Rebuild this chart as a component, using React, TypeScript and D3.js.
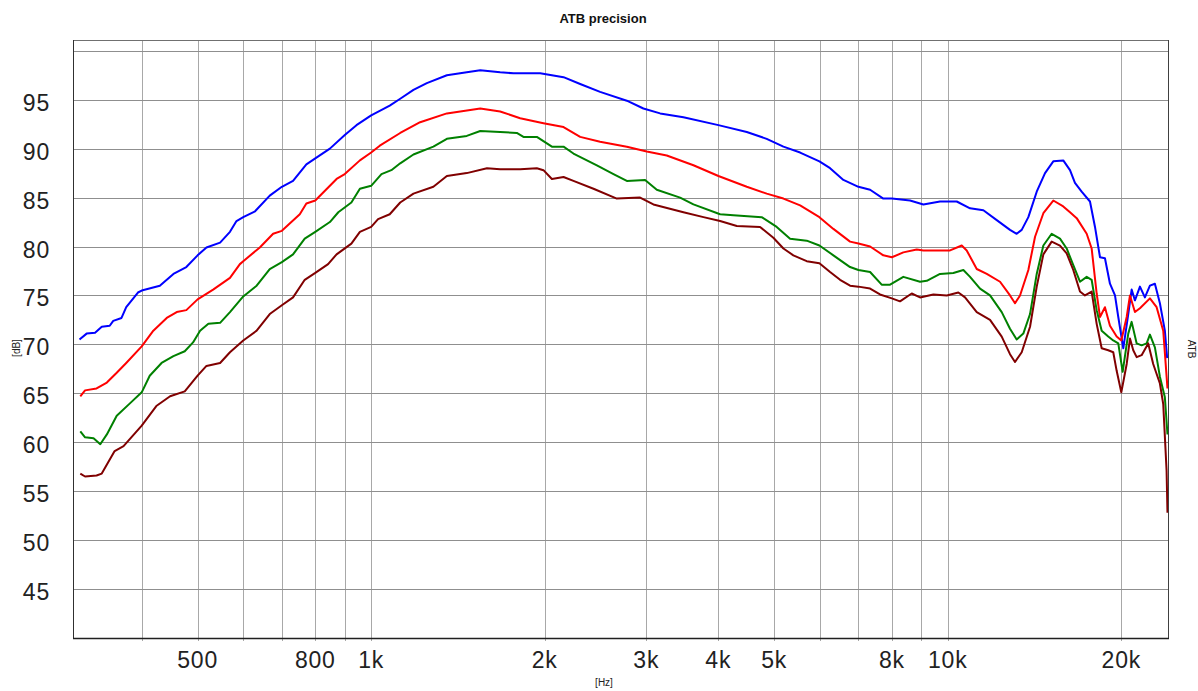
import React from "react";
import * as d3 from "d3";

const title = "ATB precision";
const yTicks = [45, 50, 55, 60, 65, 70, 75, 80, 85, 90, 95];
const yGrid = [45, 50, 55, 60, 65, 70, 75, 80, 85, 90, 95, 100];
const xGrid = [400, 500, 600, 700, 800, 900, 1000, 2000, 3000, 4000, 5000, 6000, 7000, 8000, 9000, 10000, 20000];
const xTickValues = [500, 800, 1000, 2000, 3000, 4000, 5000, 8000, 10000, 20000];
const xTickLabels = ["500", "800", "1k", "2k", "3k", "4k", "5k", "8k", "10k", "20k"];

const blue: [number, number][] = [
  [312, 70.5], [321, 71.1], [332, 71.2], [341, 71.8], [352, 71.9], [357, 72.4], [369, 72.7], [376, 73.8], [394, 75.3], [400, 75.5],
  [430, 76.0], [454, 77.2], [478, 77.9], [500, 79.1], [518, 79.9], [547, 80.4], [569, 81.5], [584, 82.6], [600, 83.0], [629, 83.6],
  [667, 85.2], [700, 86.1], [732, 86.7], [772, 88.4], [800, 89.0], [848, 90.0], [900, 91.4], [943, 92.4], [1000, 93.4], [1077, 94.4],
  [1123, 95.1], [1184, 96.0], [1249, 96.7], [1353, 97.5], [1465, 97.8], [1546, 98.0], [1674, 97.8], [1765, 97.7], [1964, 97.7],
  [2156, 97.3], [2304, 96.6], [2495, 95.8], [2776, 94.9], [2966, 94.1], [3171, 93.6], [3480, 93.2], [4002, 92.4], [4482, 91.7],
  [4853, 91.0], [5188, 90.2], [5546, 89.6], [5990, 88.7], [6251, 88.0], [6592, 86.8], [7000, 86.1], [7334, 85.8], [7731, 84.9],
  [8000, 84.9], [8602, 84.7], [9073, 84.3], [9696, 84.6], [10366, 84.6], [10932, 83.9], [11529, 83.7], [12162, 82.7], [12823, 81.7],
  [13170, 81.3], [13437, 81.7], [13798, 83.0], [14267, 85.6], [14748, 87.5], [15243, 88.7], [15862, 88.8], [16295, 87.8],
  [16621, 86.5], [17071, 85.6], [17648, 84.6], [18005, 82.0], [18369, 78.9], [18735, 78.8], [19115, 76.2], [19502, 75.0],
  [19760, 72.8], [20159, 69.6], [20563, 73.1], [20843, 75.6], [21119, 74.5], [21546, 75.9], [21977, 74.8], [22422, 76.0],
  [22871, 76.2], [23333, 74.2], [23799, 71.4], [24020, 68.6],
];

const red: [number, number][] = [
  [313, 64.7], [319, 65.3], [334, 65.5], [348, 66.1], [362, 67.1], [376, 68.1], [400, 69.8], [419, 71.4], [442, 72.7], [460, 73.3],
  [478, 73.5], [500, 74.6], [532, 75.6], [569, 76.8], [592, 78.2], [600, 78.5], [641, 79.9], [676, 81.3], [700, 81.6], [752, 83.3],
  [772, 84.4], [800, 84.7], [871, 86.9], [900, 87.4], [956, 88.8], [1000, 89.6], [1035, 90.3], [1123, 91.6], [1216, 92.7],
  [1353, 93.6], [1546, 94.1], [1674, 93.8], [1813, 93.1], [1990, 92.6], [2156, 92.2], [2304, 91.2], [2495, 90.7], [2776, 90.2],
  [3006, 89.7], [3256, 89.3], [3622, 88.3], [4002, 87.2], [4482, 86.1], [4853, 85.4], [5188, 84.9], [5546, 84.2], [5990, 83.0],
  [6334, 81.8], [6770, 80.5], [7000, 80.3], [7334, 80.0], [7731, 79.1], [8000, 78.9], [8375, 79.4], [8835, 79.7], [9073, 79.6],
  [9696, 79.6], [10093, 79.6], [10575, 80.1], [10787, 79.6], [11228, 77.7], [11687, 77.2], [12323, 76.4], [12823, 75.0],
  [13082, 74.2], [13347, 75.0], [13798, 77.6], [14172, 81.0], [14650, 83.4], [15243, 84.7], [15862, 84.1], [16295, 83.5],
  [16736, 82.9], [17418, 81.3], [17766, 79.8], [18126, 75.2], [18369, 72.8], [18735, 73.8], [19115, 71.9], [19633, 70.8],
  [20000, 70.4], [20435, 72.8], [20704, 75.0], [21119, 73.3], [21546, 73.7], [22422, 74.7], [23029, 73.8], [23646, 71.4],
  [24050, 65.5],
];

const green: [number, number][] = [
  [313, 61.1], [319, 60.5], [330, 60.4], [339, 59.8], [348, 60.8], [362, 62.7], [382, 64.0], [400, 65.1], [413, 66.8], [433, 68.1],
  [454, 68.8], [475, 69.3], [491, 70.2], [505, 71.4], [522, 72.1], [547, 72.2], [569, 73.3], [600, 74.9], [633, 76.0], [667, 77.7],
  [700, 78.4], [732, 79.2], [767, 80.8], [800, 81.5], [848, 82.5], [877, 83.5], [924, 84.5], [956, 85.9], [1000, 86.2],
  [1042, 87.4], [1084, 87.8], [1123, 88.5], [1184, 89.4], [1282, 90.2], [1353, 91.0], [1465, 91.3], [1546, 91.8], [1674, 91.7],
  [1789, 91.6], [1837, 91.2], [1938, 91.2], [2058, 90.2], [2156, 90.2], [2243, 89.5], [2463, 88.3], [2632, 87.4], [2776, 86.7],
  [2986, 86.8], [3129, 85.8], [3434, 85.0], [3622, 84.3], [4029, 83.3], [4249, 83.2], [4757, 83.0], [5051, 82.0], [5328, 80.8],
  [5694, 80.6], [5990, 80.1], [6334, 79.1], [6770, 77.9], [7000, 77.6], [7334, 77.4], [7681, 76.1], [7943, 76.1], [8375, 76.9],
  [8953, 76.4], [9196, 76.5], [9696, 77.2], [10226, 77.3], [10644, 77.6], [10932, 76.9], [11376, 75.7], [11840, 75.0],
  [12406, 73.3], [12823, 71.6], [13170, 70.5], [13524, 71.1], [13891, 73.1], [14267, 77.2], [14650, 80.1], [15145, 81.3],
  [15655, 80.8], [16079, 79.8], [16510, 78.1], [16957, 76.4], [17418, 76.9], [17766, 76.6], [18126, 73.5], [18492, 71.4],
  [18983, 70.8], [19367, 70.4], [19760, 70.1], [20108, 67.2], [20563, 71.1], [20843, 72.3], [21265, 70.1], [21690, 69.9],
  [22130, 70.1], [22422, 71.0], [22871, 69.7], [23333, 66.7], [23799, 64.6], [24050, 60.8],
];

const darkred: [number, number][] = [
  [313, 56.8], [319, 56.5], [334, 56.6], [341, 56.8], [359, 59.1], [372, 59.6], [400, 61.7], [424, 63.7], [448, 64.7], [475, 65.2],
  [500, 66.8], [518, 67.8], [547, 68.1], [569, 69.2], [600, 70.4], [633, 71.4], [667, 73.1], [700, 74.0], [732, 74.8], [767, 76.6],
  [800, 77.3], [842, 78.2], [871, 79.2], [924, 80.3], [956, 81.5], [1000, 82.0], [1028, 82.8], [1077, 83.3], [1123, 84.5],
  [1184, 85.4], [1282, 86.1], [1353, 87.2], [1465, 87.5], [1588, 88.0], [1674, 87.9], [1813, 87.9], [1938, 88.0], [1990, 87.8],
  [2058, 86.9], [2156, 87.1], [2243, 86.7], [2430, 85.9], [2667, 84.9], [2927, 85.0], [3087, 84.3], [3480, 83.5], [3770, 83.0],
  [4029, 82.6], [4307, 82.1], [4726, 82.0], [4984, 80.9], [5188, 79.8], [5398, 79.1], [5694, 78.5], [5990, 78.3], [6251, 77.4],
  [6505, 76.6], [6770, 76.0], [7000, 75.9], [7334, 75.7], [7630, 75.1], [8000, 74.7], [8265, 74.4], [8660, 75.2], [8953, 74.8],
  [9441, 75.1], [9961, 75.0], [10433, 75.3], [10715, 74.8], [11228, 73.3], [11840, 72.5], [12406, 70.8], [12823, 69.0],
  [13082, 68.2], [13437, 69.2], [13891, 71.8], [14267, 75.9], [14650, 79.2], [15145, 80.5], [15655, 80.1], [16079, 79.3],
  [16510, 77.6], [16957, 75.4], [17298, 75.0], [17766, 75.4], [18126, 72.1], [18492, 69.6], [18983, 69.4], [19367, 69.2],
  [19633, 67.3], [20000, 65.1], [20435, 68.0], [20704, 70.6], [20978, 69.4], [21265, 68.7], [21690, 68.9], [22268, 70.1],
  [22718, 68.0], [23333, 66.0], [23646, 63.9], [23964, 57.1], [24050, 52.8],
];

const seriesList = [
  { name: "blue", data: blue, color: "#0000ff" },
  { name: "red", data: red, color: "#ff0000" },
  { name: "green", data: green, color: "#008000" },
  { name: "darkred", data: darkred, color: "#800000" },
];

const W = 1198;
const H = 691;
const left = 73;
const right = 1168;
const top = 40;
const bottom = 638;

export default function App() {
  const x = d3.scaleLog().domain([304, 24100]).range([left, right]);
  const y = d3.scaleLinear().domain([40, 101.1]).range([bottom, top]);
  const line = d3
    .line<[number, number]>()
    .x((d) => x(d[0]))
    .y((d) => y(d[1]));
  const font = "'Liberation Sans', Arial, sans-serif";
  return (
    <svg
      width={W}
      height={H}
      style={{ position: "absolute", left: 0, top: 0, background: "#fff" }}
    >
      <rect x={0} y={0} width={W} height={H} fill="#fff" />
      <defs>
        <clipPath id="plotclip">
          <rect x={left} y={top} width={right - left} height={bottom - top} />
        </clipPath>
      </defs>
      {xGrid.map((f) => (
        <line
          key={"vx" + f}
          x1={Math.round(x(f)) + 0.5}
          x2={Math.round(x(f)) + 0.5}
          y1={top}
          y2={bottom + 3}
          stroke="#a8a8a8"
          strokeWidth={1}
        />
      ))}
      {yGrid.map((v) => (
        <line
          key={"hy" + v}
          x1={left}
          x2={right}
          y1={Math.round(y(v)) + 0.5}
          y2={Math.round(y(v)) + 0.5}
          stroke="#8f8f8f"
          strokeWidth={1}
        />
      ))}
      <line x1={left} x2={right} y1={top + 0.5} y2={top + 0.5} stroke="#707070" />
      <line x1={right + 0.5} x2={right + 0.5} y1={top} y2={bottom} stroke="#404040" />
      <line x1={left + 0.5} x2={left + 0.5} y1={top} y2={bottom} stroke="#303030" />
      <line x1={left} x2={right + 1} y1={bottom + 0.5} y2={bottom + 0.5} stroke="#202020" strokeWidth={1.5} />
      <g clipPath="url(#plotclip)">
        {seriesList.map((s) => (
          <path
            key={s.name}
            d={line(s.data) || ""}
            fill="none"
            stroke={s.color}
            strokeWidth={2}
            strokeLinejoin="round"
          />
        ))}
      </g>
      {yTicks.map((v) => (
        <text
          key={"yl" + v}
          x={50}
          y={y(v) + 11}
          textAnchor="end"
          fontFamily={font}
          fontSize={23}
          letterSpacing={0.8}
          fill="#222"
        >
          {v}
        </text>
      ))}
      {xTickValues.map((f, i) => (
        <text
          key={"xl" + f}
          x={x(f)}
          y={668}
          textAnchor="middle"
          fontFamily={font}
          fontSize={23}
          letterSpacing={0.8}
          fill="#222"
        >
          {xTickLabels[i]}
        </text>
      ))}
      <text x={603} y={23} textAnchor="middle" fontFamily={font} fontSize={13} fontWeight="bold" fill="#111">
        {title}
      </text>
      <text x={604} y={686} textAnchor="middle" fontFamily={font} fontSize={10} fill="#222">
        [Hz]
      </text>
      <text
        transform="translate(20,348) rotate(-90)"
        textAnchor="middle"
        fontFamily={font}
        fontSize={10}
        fill="#222"
      >
        [dB]
      </text>
      <text
        transform="translate(1188,349) rotate(90)"
        textAnchor="middle"
        fontFamily={font}
        fontSize={10}
        fill="#222"
      >
        ATB
      </text>
    </svg>
  );
}
